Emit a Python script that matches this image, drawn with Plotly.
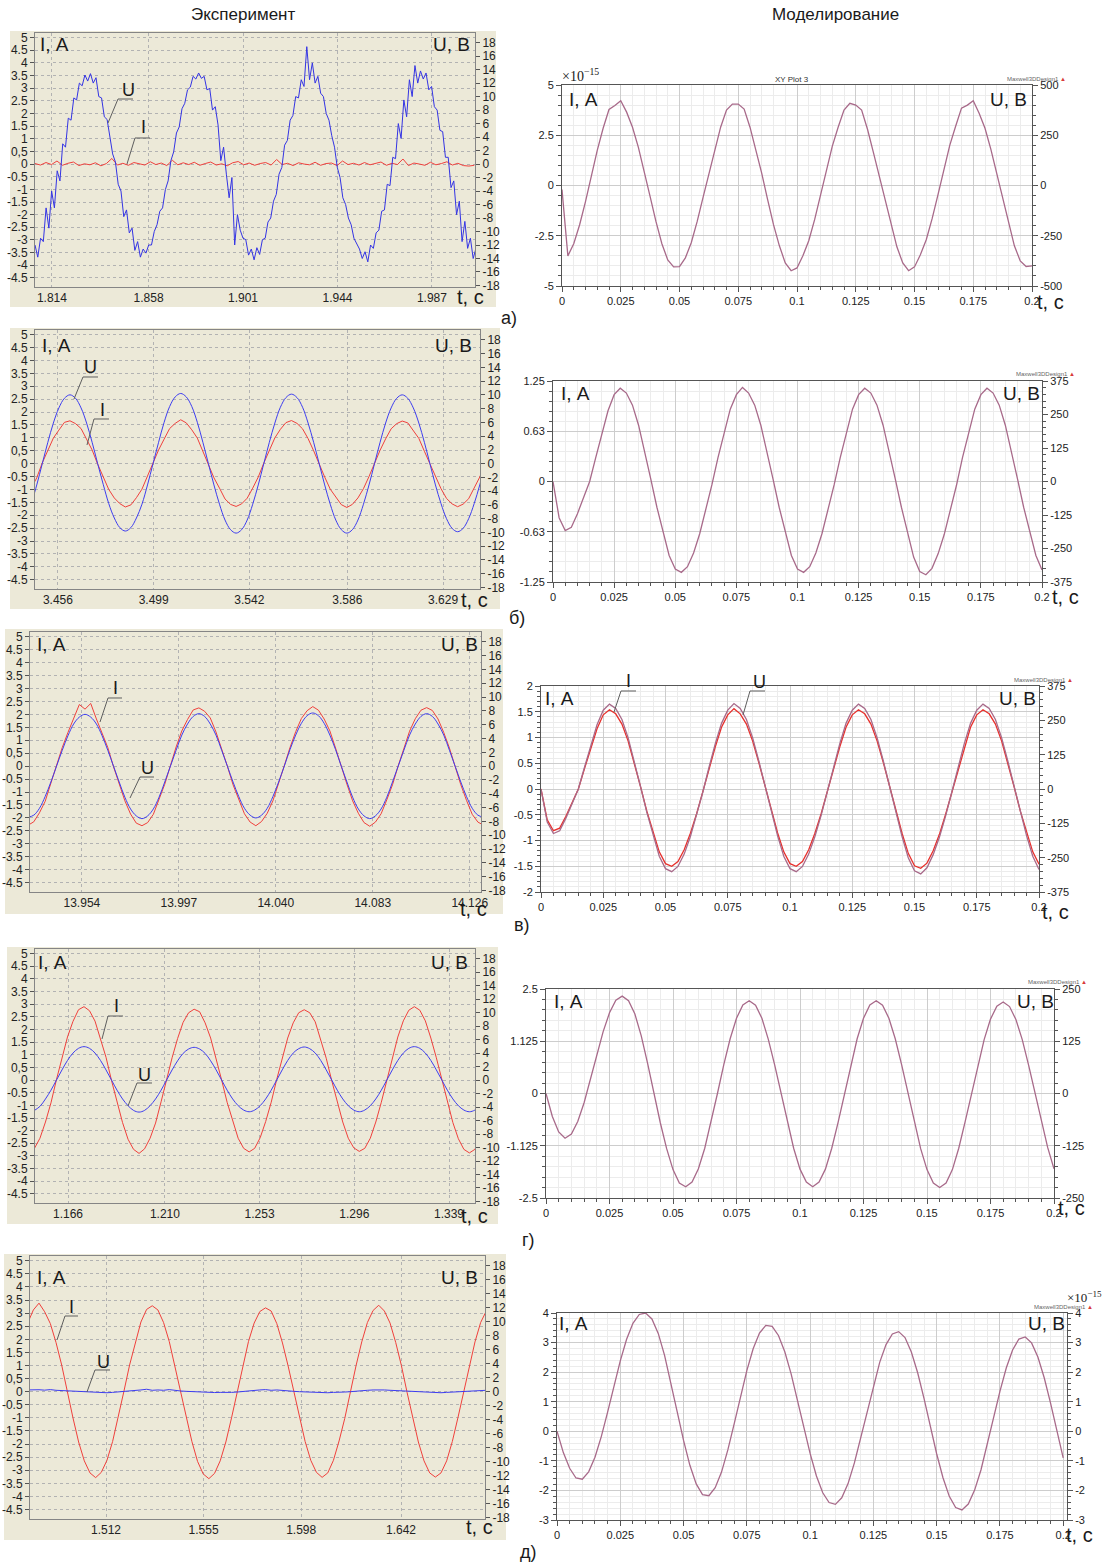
import numpy as np
import plotly.graph_objects as go

W, H = 1105, 1566
SANS = "Liberation Sans, Arial, sans-serif"
SERIF = "Liberation Serif, DejaVu Serif, serif"

# ====================== data ======================
# --- Эксперимент, а) : U every 1.2625 ms, I every 2.5 ms
exp_a_t0 = 1.8063
exp_a_u_dt = 0.0012625
exp_a_u = [
    -12.0, -13.8, -11.0, -11.5, -6.5, -9.5, -4.0, -6.5, -1.0, -2.5,
    3.0, 2.5, 6.8, 6.5, 9.8, 9.5, 12.0, 11.6, 13.2, 12.3,
    13.4, 12.0, 12.8, 10.0, 9.8, 7.0, 6.6, 4.0, 1.5, 0.3,
    -3.0, -4.0, -7.8, -6.8, -10.2, -9.5, -12.8, -11.5, -13.8, -12.6,
    -13.2, -12.0, -12.0, -10.0, -9.0, -7.0, -6.5, -3.8, -2.5, 0.5,
    1.8, 4.6, 5.5, 8.2, 9.0, 11.0, 11.4, 13.0, 12.6, 13.5,
    12.7, 13.0, 11.0, 11.2, 8.0, 8.5, 5.8, 0.5, 2.5, -1.5,
    -5.0, -2.0, -12.0, -7.5, -9.8, -11.0, -11.2, -13.5, -12.6, -14.2,
    -12.4, -13.4, -11.2, -11.0, -8.6, -8.0, -5.5, -4.5, -1.5, -0.5,
    2.8, 3.5, 6.5, 7.2, 10.0, 9.8, 12.5, 11.5, 17.4, 12.5,
    15.0, 12.0, 13.0, 10.5, 10.0, 7.5, 6.5, 4.2, 2.5, -0.5,
    -2.0, -5.0, -6.0, -8.0, -9.0, -11.0, -11.8, -12.6, -14.0, -13.0,
    -14.5, -12.0, -12.5, -10.2, -9.8, -7.0, -6.8, -3.0, -3.2, 1.0,
    0.8, 6.0, 3.8, 9.5, 7.0, 12.5, 10.0, 14.6, 12.0, 13.8,
    12.6, 13.5, 11.0, 11.5, 8.5, 8.0, 5.0, 4.8, 1.0, 1.0,
    -3.5, -2.5, -7.5, -5.5, -11.5, -8.5, -12.5, -11.0, -14.0, -12.5,
    -14.2,
]
exp_a_i_dt = 0.0025
exp_a_i = [
    0.02, -0.04, 0.06, -0.02, 0.12, -0.05, 0.03, 0.08, -0.06, 0.01,
    -0.03, 0.05, -0.07, 0.02, 0.22, -0.04, 0.03, -0.05, 0.06, 0.0,
    -0.04, 0.09, -0.02, 0.04, -0.06, 0.15, -0.03, 0.05, -0.02, 0.07,
    -0.05, 0.02, 0.08, -0.04, 0.01, -0.07, 0.05, 0.1, -0.03, 0.04,
    -0.05, 0.02, 0.06, -0.04, 0.18, -0.02, 0.03, -0.06, 0.05, 0.0,
    -0.03, 0.07, -0.05, 0.02, 0.04, -0.06, 0.12, -0.02, 0.03, -0.04,
    0.06, -0.03, 0.01, 0.08, -0.05, 0.03, -0.02, 0.2, -0.06, 0.04,
    0.0, -0.05, 0.07, -0.03, 0.02, 0.09, -0.04, 0.03, -0.06, -0.08,
    -0.05,
]
exp_a_ticks = [1.814, 1.858, 1.901, 1.944, 1.987]
exp_a_ticklabels = ["1.814", "1.858", "1.901", "1.944", "1.987"]

# --- Эксперимент, б)
exp_b_t0 = 3.4440
exp_b_dt = 0.0024875
exp_b_u = [
    -5.9, -3.1, 0.0, 3.1, 5.9, 8.1, 9.5, 10.0, 9.5, 8.1, 5.9, 3.1, 0.0, -3.0, -5.8, -7.9, -9.3, -9.8, -9.3, -7.9,
    -5.9, -3.1, 0.0, 3.1, 6.0, 8.3, 9.7, 10.2, 9.7, 8.3, 6.0, 3.1, 0.0, -3.1, -5.9, -8.2, -9.6, -10.1, -9.6, -8.2,
    -5.9, -3.1, 0.0, 3.1, 5.9, 8.2, 9.6, 10.1, 9.6, 8.2, 5.9, 3.1, 0.0, -3.1, -5.9, -8.2, -9.6, -10.1, -9.6, -8.2,
    -5.9, -3.1, 0.0, 3.1, 5.9, 8.1, 9.5, 10.0, 9.5, 8.1, 5.9, 3.1, 0.0, -3.1, -5.8, -8.0, -9.4, -9.9, -9.4, -8.0,
    -5.8, -3.1, 0.0,
]
exp_b_i = [
    -0.95, -0.55, 0.03, 0.48, 0.99, 1.30, 1.60, 1.66, 1.55, 1.36, 0.95, 0.53, -0.02, -0.49, -1.00, -1.33, -1.55, -1.68, -1.60, -1.32,
    -0.99, -0.48, 0.04, 0.53, 0.95, 1.36, 1.56, 1.70, 1.58, 1.31, 0.99, 0.49, 0.01, -0.55, -0.95, -1.37, -1.58, -1.66, -1.56, -1.34,
    -0.95, -0.52, 0.02, 0.49, 1.00, 1.33, 1.59, 1.67, 1.56, 1.35, 0.97, 0.50, -0.04, -0.52, -0.99, -1.31, -1.59, -1.70, -1.58, -1.33,
    -0.97, -0.50, 0.03, 0.52, 0.96, 1.35, 1.55, 1.65, 1.58, 1.30, 0.98, 0.48, -0.02, -0.50, -0.97, -1.35, -1.56, -1.67, -1.57, -1.36,
    -0.96, -0.52, 0.02,
]
exp_b_ticks = [3.456, 3.499, 3.542, 3.586, 3.629]
exp_b_ticklabels = ["3.456", "3.499", "3.542", "3.586", "3.629"]

# --- Эксперимент, в)
exp_v_t0 = 13.93015
exp_v_dt = 0.002525
exp_v_u = [
    -7.4, -7.1, -6.1, -4.4, -2.3, 0.0, 2.3, 4.4, 6.1, 7.1, 7.5, 7.1, 6.1, 4.4, 2.3, 0.0, -2.3, -4.5, -6.2, -7.2,
    -7.6, -7.2, -6.2, -4.5, -2.3, 0.0, 2.3, 4.5, 6.1, 7.2, 7.6, 7.2, 6.1, 4.5, 2.3, 0.0, -2.3, -4.4, -6.1, -7.1,
    -7.5, -7.1, -6.1, -4.4, -2.3, 0.0, 2.4, 4.5, 6.2, 7.3, 7.7, 7.3, 6.2, 4.5, 2.4, 0.0, -2.3, -4.5, -6.2, -7.2,
    -7.6, -7.2, -6.2, -4.5, -2.3, 0.0, 2.3, 4.5, 6.1, 7.2, 7.6, 7.2, 6.1, 4.5, 2.3, 0.0, -2.3, -4.4, -6.1, -7.1,
    -7.4,
]
exp_v_i = [
    -2.28, -2.15, -1.80, -1.36, -0.66, 0.03, 0.72, 1.30, 1.85, 2.38, 2.20, 2.42, 1.82, 1.30, 0.72, -0.02, -0.68, -1.34, -1.85, -2.20,
    -2.30, -2.18, -1.86, -1.31, -0.70, 0.02, 0.74, 1.36, 1.80, 2.17, 2.25, 2.12, 1.86, 1.32, 0.68, 0.00, -0.72, -1.32, -1.84, -2.16,
    -2.30, -2.14, -1.82, -1.34, -0.70, 0.02, 0.72, 1.33, 1.84, 2.14, 2.30, 2.16, 1.82, 1.36, 0.70, -0.03, -0.70, -1.34, -1.82, -2.18,
    -2.32, -2.16, -1.84, -1.30, -0.72, 0.01, 0.70, 1.35, 1.83, 2.16, 2.26, 2.15, 1.82, 1.30, 0.70, 0.00, -0.72, -1.32, -1.86, -2.16,
    -2.28,
]
exp_v_ticks = [13.954, 13.997, 14.040, 14.083, 14.126]
exp_v_ticklabels = ["13.954", "13.997", "14.040", "14.083", "14.126"]

# --- Эксперимент, г)
exp_g_t0 = 1.15075
exp_g_dt = 0.0025
exp_g_u = [
    -4.5, -3.9, -2.8, -1.5, 0.0, 1.5, 2.9, 4.0, 4.7, 4.95, 4.7, 4.0, 2.9, 1.5, 0.0, -1.5, -2.8, -3.8, -4.5, -4.75,
    -4.5, -3.8, -2.8, -1.5, 0.0, 1.5, 2.85, 3.95, 4.6, 4.85, 4.6, 3.95, 2.85, 1.5, 0.0, -1.5, -2.8, -3.8, -4.45, -4.7,
    -4.45, -3.8, -2.8, -1.5, 0.0, 1.5, 2.9, 4.0, 4.65, 4.9, 4.65, 4.0, 2.9, 1.5, 0.0, -1.5, -2.8, -3.8, -4.45, -4.7,
    -4.45, -3.8, -2.8, -1.5, 0.0, 1.5, 2.9, 4.0, 4.7, 4.95, 4.7, 4.0, 2.9, 1.5, 0.0, -1.5, -2.8, -3.8, -4.45, -4.7,
    -4.45, -3.8,
]
exp_g_i = [
    -2.70, -2.30, -1.66, -0.90, 0.02, 0.86, 1.70, 2.32, 2.78, 2.90, 2.74, 2.33, 1.66, 0.90, -0.02, -0.90, -1.68, -2.34, -2.74, -2.90,
    -2.72, -2.30, -1.70, -0.86, 0.03, 0.88, 1.64, 2.28, 2.66, 2.80, 2.70, 2.26, 1.66, 0.86, 0.00, -0.88, -1.64, -2.30, -2.70, -2.84,
    -2.70, -2.28, -1.64, -0.88, 0.02, 0.86, 1.66, 2.26, 2.66, 2.78, 2.66, 2.30, 1.62, 0.86, -0.03, -0.86, -1.66, -2.30, -2.68, -2.82,
    -2.70, -2.30, -1.66, -0.88, 0.00, 0.88, 1.70, 2.34, 2.76, 2.90, 2.76, 2.34, 1.66, 0.88, 0.00, -0.90, -1.68, -2.32, -2.74, -2.88,
    -2.74, -2.32,
]
exp_g_ticks = [1.166, 1.210, 1.253, 1.296, 1.339]
exp_g_ticklabels = ["1.166", "1.210", "1.253", "1.296", "1.339"]

# --- Эксперимент, д)
exp_d_t0 = 1.47748
exp_d_dt = 0.002495
exp_d_u = [
    0.25, 0.3, 0.28, 0.22, 0.3, 0.2, 0.15, 0.1, 0.05, 0.0, -0.05, -0.1, -0.12, -0.1, -0.15, -0.1, -0.05, 0.0, 0.1, 0.15,
    0.25, 0.35, 0.2, 0.25, 0.2, 0.3, 0.15, 0.1, 0.05, 0.0, -0.05, -0.1, -0.15, -0.12, -0.1, -0.15, -0.1, -0.05, 0.05, 0.1,
    0.2, 0.25, 0.3, 0.2, 0.25, 0.15, 0.1, 0.05, 0.0, -0.05, -0.1, -0.15, -0.2, -0.15, -0.1, -0.12, -0.05, 0.0, 0.1, 0.15,
    0.2, 0.25, 0.3, 0.25, 0.2, 0.15, 0.1, 0.05, 0.0, -0.05, -0.1, -0.15, -0.12, -0.15, -0.1, -0.05, 0.0, 0.05, 0.1, 0.15,
    0.2, 0.2,
]
exp_d_i = [
    2.62, 3.12, 3.38, 3.05, 2.60, 1.88, 1.02, -0.02, -1.00, -1.92, -2.64, -3.10, -3.28, -3.08, -2.62, -1.90, -1.00, 0.02, 1.02, 1.90,
    2.66, 3.14, 3.28, 3.12, 2.64, 1.92, 0.98, 0.01, -1.02, -1.90, -2.66, -3.14, -3.32, -3.12, -2.64, -1.92, -1.00, -0.02, 1.00, 1.92,
    2.62, 3.06, 3.20, 3.08, 2.60, 1.86, 0.98, 0.00, -1.00, -1.90, -2.62, -3.08, -3.27, -3.10, -2.62, -1.88, -1.02, 0.02, 1.00, 1.90,
    2.64, 3.10, 3.30, 3.08, 2.62, 1.88, 1.00, -0.02, -1.00, -1.92, -2.64, -3.10, -3.26, -3.10, -2.64, -1.90, -0.98, 0.00, 1.02, 1.90,
    2.64, 3.08,
]
exp_d_ticks = [1.512, 1.555, 1.598, 1.642]
exp_d_ticklabels = ["1.512", "1.555", "1.598", "1.642"]

# shared scales of the oscillograms
exp_i_ticks = [-4.5, -4, -3.5, -3, -2.5, -2, -1.5, -1, -0.5, 0, 0.5, 1, 1.5, 2, 2.5, 3, 3.5, 4, 4.5, 5]
exp_i_ticklabels = ["-4.5", "-4", "-3.5", "-3", "-2.5", "-2", "-1.5", "-1", "-0.5", "0",
                    "0,5", "1", "1.5", "2", "2.5", "3", "3.5", "4", "4.5", "5"]
exp_u_ticks = [-18, -16, -14, -12, -10, -8, -6, -4, -2, 0, 2, 4, 6, 8, 10, 12, 14, 16, 18]

# --- Моделирование (Maxwell), samples every 2.5 ms from t = 0
sim_dt = 0.0025
sim_a_u = [
    -20, -350, -290, -195, -80, 50, 175, 285, 378, 398, 422, 365, 290, 190, 75, -55, -180, -290, -370, -405, -404,
    -360, -285, -180, -60, 60, 185, 290, 375, 405, 405, 380, 290, 180, 60, -70, -195, -300, -385, -424, -410,
    -350, -275, -170, -50, 75, 195, 290, 375, 409, 400, 375, 280, 165, 45, -80, -200, -305, -385, -424, -405,
    -345, -270, -165, -45, 80, 200, 295, 385, 400, 422, 360, 285, 180, 60, -70, -195, -300, -375, -403, -400,
]
sim_b_i = [
    0, -0.45, -0.61, -0.57, -0.40, -0.20, 0.0, 0.30, 0.60, 0.88, 1.08,
    1.16, 1.10, 0.95, 0.70, 0.38, 0.03, -0.32, -0.64, -0.92, -1.09, -1.13, -1.06, -0.89, -0.65, -0.36, -0.04, 0.30, 0.62, 0.90, 1.08,
    1.17, 1.10, 0.95, 0.70, 0.38, 0.03, -0.32, -0.64, -0.92, -1.09, -1.13, -1.06, -0.89, -0.65, -0.36, -0.04, 0.30, 0.62, 0.90, 1.08,
    1.16, 1.10, 0.95, 0.70, 0.38, 0.03, -0.32, -0.65, -0.94, -1.12, -1.16, -1.08, -0.90, -0.66, -0.37, -0.05, 0.30, 0.62, 0.90, 1.08,
    1.16, 1.10, 0.95, 0.70, 0.38, 0.03, -0.32, -0.64, -0.92, -1.10,
]
sim_v_i = [
    0, -0.60, -0.81, -0.76, -0.53, -0.27, 0.0, 0.40, 0.80, 1.17, 1.44,
    1.54, 1.46, 1.26, 0.93, 0.51, 0.04, -0.43, -0.85, -1.22, -1.45, -1.50, -1.41, -1.18, -0.86, -0.48, -0.05, 0.40, 0.82, 1.20, 1.44,
    1.56, 1.46, 1.26, 0.93, 0.51, 0.04, -0.43, -0.85, -1.22, -1.45, -1.50, -1.41, -1.18, -0.86, -0.48, -0.05, 0.40, 0.82, 1.20, 1.44,
    1.54, 1.46, 1.26, 0.93, 0.51, 0.04, -0.43, -0.86, -1.25, -1.49, -1.54, -1.44, -1.20, -0.88, -0.49, -0.07, 0.40, 0.82, 1.20, 1.44,
    1.54, 1.46, 1.26, 0.93, 0.51, 0.04, -0.43, -0.85, -1.22, -1.46,
]
sim_v_u = [
    0, -120, -162, -152, -106, -53, 0, 80, 160, 234, 287,
    309, 293, 253, 186, 101, 8, -85, -170, -245, -290, -301, -282, -237, -173, -96, -11, 80, 165, 239, 287,
    311, 293, 253, 186, 101, 8, -85, -170, -245, -290, -301, -282, -237, -173, -96, -11, 80, 165, 239, 287,
    309, 293, 253, 186, 101, 8, -85, -173, -250, -298, -309, -287, -239, -176, -98, -13, 80, 165, 239, 287,
    309, 293, 253, 186, 101, 8, -85, -170, -245, -293,
]
sim_g_u = [
    0, -55, -92, -107, -97, -67, -22, 33, 92, 148, 193, 223, 233,
    222, 190, 138, 72, 0, -70, -132, -182, -214, -223,
    -212, -180, -131, -69, 0, 69, 131, 180, 212, 222,
    211, 180, 130, 69, 0, -69, -131, -181, -212, -223,
    -212, -181, -131, -69, 0, 69, 131, 180, 212, 222,
    211, 180, 131, 69, 0, -70, -132, -182, -214, -225,
    -214, -182, -131, -68, 0, 68, 129, 178, 209, 219,
    208, 177, 129, 68, 0, -68, -129, -180,
]
sim_d_i = [
    0, -0.72, -1.25, -1.58,
    -1.62, -1.37, -0.88, -0.18, 0.65, 1.53, 2.38, 3.11, 3.65, 3.95,
    4.0, 3.80, 3.31, 2.57, 1.66, 0.66, -0.31, -1.15, -1.78, -2.14,
    -2.18, -1.91, -1.38, -0.63, 0.25, 1.17, 2.05, 2.79, 3.32, 3.58,
    3.55, 3.24, 2.69, 1.94, 1.06, 0.14, -0.75, -1.51, -2.08, -2.41,
    -2.47, -2.25, -1.77, -1.07, -0.23, 0.67, 1.55, 2.33, 2.93, 3.29,
    3.37, 3.17, 2.68, 1.98, 1.11, 0.16, -0.76, -1.57, -2.20, -2.58,
    -2.66, -2.46, -1.99, -1.31, -0.46, 0.46, 1.35, 2.14, 2.75, 3.12,
    3.19, 2.99, 2.51, 1.81, 0.95, 0.01, -0.90,
]
sim_t_ticks = [0, 0.025, 0.05, 0.075, 0.1, 0.125, 0.15, 0.175, 0.2]
sim_t_ticklabels = ["0", "0.025", "0.05", "0.075", "0.1", "0.125", "0.15", "0.175", "0.2"]

# ====================== drawing ======================
BEIGE = "#ECE9D8"
EXP_FRAME = "#858585"
EXP_GRID = "#b2b2b2"
BLUE = "#3d3df0"
RED = "#f0403c"
MAUVE = "#a86a8a"
SIM_RED = "#e8302c"
SIM_AXIS = "#555555"
I_RANGE = [-4.86, 5.18]
U_RANGE = [-18.225, 19.425]

fig = go.Figure()
shapes, annotations = [], []
layout = {}


def fx(p):
    return p / W


def fy(p):
    return 1 - p / H


def axis_ids(i):
    xa = "x" if i == 1 else f"x{i}"
    yl = "y" if i == 1 else f"y{2 * i - 1}"
    yr = f"y{2 * i}"
    return xa, yl, yr


def lkey(aid):
    return aid[0] + "axis" + aid[1:]


def text(px, py, s, size, family=SANS, color="#1a1a1a", xanchor="center"):
    annotations.append(dict(x=fx(px), y=fy(py), xref="paper", yref="paper", text=s,
                            showarrow=False, font=dict(size=size, family=family, color=color),
                            xanchor=xanchor, yanchor="middle"))


def leader(label, lx, ly, pts):
    text(lx, ly, label, 18)
    path = "M " + " L ".join(f"{fx(x):.5f},{fy(y):.5f}" for x, y in pts)
    shapes.append(dict(type="path", path=path, xref="paper", yref="paper",
                       line=dict(color="#5e5e5e", width=1)))


def line(xa, ya, t, v, color, width=1.0, shape="linear"):
    fig.add_trace(go.Scatter(x=t, y=v, xaxis=xa, yaxis=ya, mode="lines",
                             line=dict(color=color, width=width, shape=shape),
                             hoverinfo="skip", showlegend=False))


def axis_anchor(xa, ya, x):
    # transparent marker so that a scale without a curve of its own is still
    # laid out on its panel (plotly only builds overlay subplots that hold a trace)
    fig.add_trace(go.Scatter(x=[x], y=[0], xaxis=xa, yaxis=ya, mode="markers",
                             marker=dict(size=1, opacity=0), hoverinfo="skip",
                             showlegend=False))


def exp_panel(i, frame, plot, xrange, xticks, xlabels):
    xa, yl, yr = axis_ids(i)
    shapes.append(dict(type="rect", xref="paper", yref="paper", layer="below",
                       x0=fx(frame[0]), x1=fx(frame[2]), y0=fy(frame[3]), y1=fy(frame[1]),
                       fillcolor=BEIGE, line=dict(width=0)))
    x0, y0, x1, y1 = plot
    tf = dict(size=12, family=SANS, color="#222")
    layout[lkey(xa)] = dict(domain=[fx(x0), fx(x1)], anchor=yl, range=xrange,
                            tickmode="array", tickvals=xticks, ticktext=xlabels, ticks="",
                            showgrid=True, gridcolor=EXP_GRID, griddash="dot", gridwidth=1,
                            zeroline=False, showline=True, linecolor=EXP_FRAME, mirror=True,
                            tickfont=tf, automargin=False, fixedrange=True)
    layout[lkey(yl)] = dict(domain=[fy(y1), fy(y0)], anchor=xa, range=I_RANGE,
                            tickmode="array", tickvals=exp_i_ticks, ticktext=exp_i_ticklabels,
                            ticks="outside", ticklen=4, tickcolor="#555",
                            showgrid=True, gridcolor=EXP_GRID, griddash="dot", gridwidth=1,
                            zeroline=False, showline=True, linecolor=EXP_FRAME, mirror=True,
                            tickfont=tf, automargin=False, fixedrange=True)
    layout[lkey(yr)] = dict(overlaying=yl, side="right", anchor=xa, range=U_RANGE,
                            tickmode="array", tickvals=exp_u_ticks,
                            ticktext=[str(v) for v in exp_u_ticks],
                            ticks="outside", ticklen=4, tickcolor="#555", showgrid=False,
                            zeroline=False, showline=False, tickfont=tf,
                            automargin=False, fixedrange=True)
    return xa, yl, yr


def sim_panel(i, plot, xrange, yl_range, yl_ticks, yl_labels, yl_minor,
              yr_range, yr_ticks, yr_labels, yr_minor):
    xa, yl, yr = axis_ids(i)
    x0, y0, x1, y1 = plot
    tf = dict(size=11, family=SANS, color="#222")
    minor_x = dict(tickmode="array", tickvals=[round(v, 4) for v in np.arange(0.005, 0.2101, 0.005)],
                   ticks="outside", ticklen=3, tickcolor=SIM_AXIS,
                   showgrid=True, gridcolor="#ececec", gridwidth=1)
    layout[lkey(xa)] = dict(domain=[fx(x0), fx(x1)], anchor=yl, range=xrange,
                            tickmode="array", tickvals=sim_t_ticks, ticktext=sim_t_ticklabels,
                            ticks="outside", ticklen=5, tickcolor=SIM_AXIS,
                            showgrid=True, gridcolor="#cdcdcd", gridwidth=1, minor=minor_x,
                            zeroline=False, showline=True, linecolor=SIM_AXIS, mirror=True,
                            tickfont=tf, automargin=False, fixedrange=True)
    layout[lkey(yl)] = dict(domain=[fy(y1), fy(y0)], anchor=xa, range=yl_range,
                            tickmode="array", tickvals=yl_ticks, ticktext=yl_labels,
                            ticks="outside", ticklen=5, tickcolor=SIM_AXIS,
                            showgrid=True, gridcolor="#cdcdcd", gridwidth=1,
                            minor=dict(tickmode="array", tickvals=yl_minor, ticks="outside",
                                       ticklen=3, tickcolor=SIM_AXIS, showgrid=True,
                                       gridcolor="#ececec", gridwidth=1),
                            zeroline=False, showline=True, linecolor=SIM_AXIS, mirror=True,
                            tickfont=tf, automargin=False, fixedrange=True)
    layout[lkey(yr)] = dict(overlaying=yl, side="right", anchor=xa, range=yr_range,
                            tickmode="array", tickvals=yr_ticks, ticktext=yr_labels,
                            ticks="outside", ticklen=5, tickcolor=SIM_AXIS,
                            minor=dict(tickmode="array", tickvals=yr_minor, ticks="outside",
                                       ticklen=3, tickcolor=SIM_AXIS, showgrid=False),
                            showgrid=False, zeroline=False, showline=False, tickfont=tf,
                            automargin=False, fixedrange=True)
    return xa, yl, yr


def times(t0, dt, n):
    return t0 + dt * np.arange(n)


def corner_labels(lx, rx, y, size=19):
    text(lx, y, "I, А", size)
    text(rx, y, "U, В", size)


def maxwell_tag(x, y):
    text(x, y, "Maxwell3DDesign1 <span style='color:#d83a3a'>▲</span>", 6, color="#666")


def sim_minor(lo, hi, step):
    return [round(v, 6) for v in np.arange(lo, hi + step / 2, step)]


# ---------- left column: experiment ----------
xa, yl, yr = exp_panel(1, (10, 31, 496, 307), (35, 33, 475, 287), [1.8063, 2.0066],
                       exp_a_ticks, exp_a_ticklabels)
line(xa, yr, times(exp_a_t0, exp_a_u_dt, len(exp_a_u)), exp_a_u, "#3434e4", 1.0)
line(xa, yl, times(exp_a_t0, exp_a_i_dt, len(exp_a_i)), exp_a_i, RED, 1.0)
corner_labels(54, 451, 44)
text(470, 297, "t, с", 20)
leader("U", 128, 90, [(133, 99), (118, 99), (108, 123)])
leader("I", 143, 127, [(150, 138), (135, 138), (127, 164)])

xa, yl, yr = exp_panel(3, (10, 328, 500, 609), (35, 330, 480, 589), [3.4457, 3.6456],
                       exp_b_ticks, exp_b_ticklabels)
line(xa, yr, times(exp_b_t0, exp_b_dt, len(exp_b_u)), exp_b_u, BLUE, 1.0, "spline")
line(xa, yl, times(exp_b_t0, exp_b_dt, len(exp_b_i)), exp_b_i, RED, 1.0)
corner_labels(56, 453, 346)
text(474, 600, "t, с", 20)
leader("U", 90, 367, [(98, 377), (83, 377), (74, 399)])
leader("I", 102, 410, [(109, 419), (94, 419), (87, 445)])

xa, yl, yr = exp_panel(5, (5, 629, 503, 914), (30, 632, 481, 892), [13.931, 14.131],
                       exp_v_ticks, exp_v_ticklabels)
line(xa, yl, times(exp_v_t0, exp_v_dt, len(exp_v_i)), exp_v_i, RED, 1.0)
line(xa, yr, times(exp_v_t0, exp_v_dt, len(exp_v_u)), exp_v_u, BLUE, 1.0, "spline")
corner_labels(51, 459, 645)
text(473, 909, "t, с", 20)
leader("I", 115, 688, [(122, 698), (108, 698), (100, 722)])
leader("U", 147, 768, [(154, 777), (140, 777), (130, 798)])

xa, yl, yr = exp_panel(7, (7, 947, 498, 1224), (35, 949, 475, 1203), [1.151, 1.3508],
                       exp_g_ticks, exp_g_ticklabels)
line(xa, yr, times(exp_g_t0, exp_g_dt, len(exp_g_u)), exp_g_u, BLUE, 1.0, "spline")
line(xa, yl, times(exp_g_t0, exp_g_dt, len(exp_g_i)), exp_g_i, RED, 1.0)
corner_labels(52, 449, 962)
text(474, 1216, "t, с", 20)
leader("I", 116, 1006, [(123, 1016), (108, 1016), (102, 1039)])
leader("U", 144, 1075, [(152, 1083), (137, 1083), (128, 1106)])

xa, yl, yr = exp_panel(9, (4, 1254, 506, 1540), (30, 1256, 485, 1519), [1.4785, 1.679],
                       exp_d_ticks, exp_d_ticklabels)
line(xa, yl, times(exp_d_t0, exp_d_dt, len(exp_d_i)), exp_d_i, RED, 1.0)
line(xa, yr, times(exp_d_t0, exp_d_dt, len(exp_d_u)), exp_d_u, BLUE, 1.0)
corner_labels(51, 459, 1277)
text(479, 1527, "t, с", 20)
leader("I", 71, 1307, [(78, 1316), (65, 1316), (57, 1340)])
leader("U", 103, 1362, [(110, 1370), (95, 1370), (87, 1392)])

# ---------- right column: simulation ----------
xa, yl, yr = sim_panel(2, (562, 85, 1032, 286), [0, 0.2],
                       [-5, 5], [-5, -2.5, 0, 2.5, 5], ["-5", "-2.5", "0", "2.5", "5"],
                       sim_minor(-5, 5, 0.5),
                       [-500, 500], [-500, -250, 0, 250, 500], ["-500", "-250", "0", "250", "500"],
                       sim_minor(-500, 500, 50))
axis_anchor(xa, yl, 0.1)
line(xa, yr, times(0, sim_dt, len(sim_a_u)), sim_a_u, MAUVE, 1.3)
corner_labels(583, 1008, 100)
text(1050, 302, "t, с", 20)
text(560, 75, "×10<sup>−15</sup>", 14, family=SERIF, xanchor="left")
text(792, 79, "XY Plot 3", 8, color="#333")
maxwell_tag(1036, 79)

xa, yl, yr = sim_panel(4, (553, 381, 1042, 582), [0, 0.2],
                       [-1.25, 1.25], [-1.25, -0.625, 0, 0.625, 1.25],
                       ["-1.25", "-0.63", "0", "0.63", "1.25"], sim_minor(-1.25, 1.25, 0.125),
                       [-375, 375], [-375, -250, -125, 0, 125, 250, 375],
                       ["-375", "-250", "-125", "0", "125", "250", "375"], sim_minor(-375, 375, 25))
line(xa, yl, times(0, sim_dt, len(sim_b_i)), sim_b_i, MAUVE, 1.3)
axis_anchor(xa, yr, 0.1)
corner_labels(575, 1021, 393)
text(1065, 597, "t, с", 20)
maxwell_tag(1045, 374)

xa, yl, yr = sim_panel(6, (541, 686, 1039, 892), [0, 0.2],
                       [-2, 2], [-2, -1.5, -1, -0.5, 0, 0.5, 1, 1.5, 2],
                       ["-2", "-1.5", "-1", "-0.5", "0", "0.5", "1", "1.5", "2"],
                       sim_minor(-2, 2, 0.1),
                       [-375, 375], [-375, -250, -125, 0, 125, 250, 375],
                       ["-375", "-250", "-125", "0", "125", "250", "375"], sim_minor(-375, 375, 25))
line(xa, yr, times(0, sim_dt, len(sim_v_u)), sim_v_u, MAUVE, 1.3)
line(xa, yl, times(0, sim_dt, len(sim_v_i)), sim_v_i, SIM_RED, 1.3)
corner_labels(559, 1018, 698)
text(1055, 912, "t, с", 20)
maxwell_tag(1043, 680)
leader("I", 628, 681, [(636, 691), (621, 691), (614, 712)])
leader("U", 759, 682, [(765, 691), (750, 691), (743, 715)])

xa, yl, yr = sim_panel(8, (546, 989, 1054, 1198), [0, 0.2],
                       [-2.5, 2.5], [-2.5, -1.25, 0, 1.25, 2.5],
                       ["-2.5", "-1.125", "0", "1.125", "2.5"], sim_minor(-2.5, 2.5, 0.25),
                       [-250, 250], [-250, -125, 0, 125, 250],
                       ["-250", "-125", "0", "125", "250"], sim_minor(-250, 250, 25))
axis_anchor(xa, yl, 0.1)
line(xa, yr, times(0, sim_dt, len(sim_g_u)), sim_g_u, MAUVE, 1.3)
corner_labels(569, 1035, 1002)
text(1071, 1208, "t, с", 20)
maxwell_tag(1057, 982)

xa, yl, yr = sim_panel(10, (557, 1313, 1067, 1520), [0, 0.2015],
                       [-3, 4], [-3, -2, -1, 0, 1, 2, 3, 4],
                       ["-3", "-2", "-1", "0", "1", "2", "3", "4"], sim_minor(-3, 4, 0.2),
                       [-3, 4], [-3, -2, -1, 0, 1, 2, 3, 4],
                       ["-3", "-2", "-1", "0", "1", "2", "3", "4"], sim_minor(-3, 4, 0.2))
line(xa, yl, times(0, sim_dt, len(sim_d_i)), sim_d_i, MAUVE, 1.3)
axis_anchor(xa, yr, 0.1)
corner_labels(573, 1046, 1323)
text(1079, 1535, "t, с", 20)
text(1104, 1297, "×10<sup>−15</sup>", 13, family=SERIF, xanchor="right")
maxwell_tag(1063, 1307)

# ---------- column titles and panel letters ----------
text(243, 15, "Эксперимент", 17)
text(835, 15, "Моделирование", 17)
for lbl, px, py in [("а)", 509, 318), ("б)", 517, 618), ("в)", 522, 925),
                    ("г)", 528, 1240), ("д)", 528, 1552)]:
    text(px, py, lbl, 18)

layout.update(dict(width=W, height=H, margin=dict(l=0, r=0, t=0, b=0),
                   paper_bgcolor="white", plot_bgcolor="rgba(0,0,0,0)",
                   showlegend=False, font=dict(family=SANS, color="#222"),
                   shapes=shapes, annotations=annotations))
fig.update_layout(**layout)
fig.write_html("out.html")
